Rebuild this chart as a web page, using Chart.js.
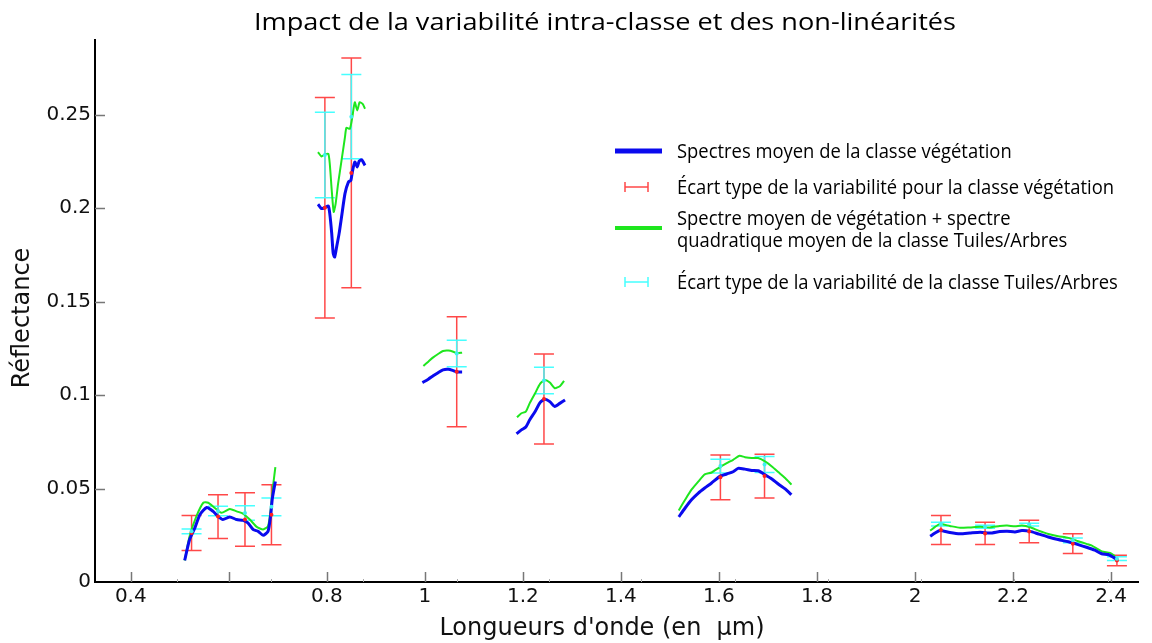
<!DOCTYPE html>
<html lang="fr">
<head>
<meta charset="utf-8">
<title>Impact de la variabilité intra-classe et des non-linéarités</title>
<script src="https://cdn.jsdelivr.net/npm/chart.js@4.4.1/dist/chart.umd.min.js"></script>
<style>
  html, body { margin: 0; padding: 0; background: #fff; }
  #wrap { width: 1152px; height: 643px; position: relative; }
</style>
</head>
<body>
<div id="wrap"><canvas id="spectres"></canvas></div>
<script>
  'use strict';

  // ── Textes ─────────────────────────────────────────────
  const chartTitle = 'Impact de la variabilité intra-classe et des non-linéarités';
  const xAxisTitle = "Longueurs d'onde (en  µm)";
  const yAxisTitle = 'Réflectance';
  const legendLabels = [
    'Spectres moyen de la classe végétation',
    'Écart type de la variabilité pour la classe végétation',
    ['Spectre moyen de végétation + spectre', 'quadratique moyen de la classe Tuiles/Arbres'],
    'Écart type de la variabilité de la classe Tuiles/Arbres',
  ];

  // ── Axes ───────────────────────────────────────────────
  const xTickValues = [0.4, 0.6, 0.8, 1.0, 1.2, 1.4, 1.6, 1.8, 2.0, 2.2, 2.4];
  const xTickLabels = ['0.4', '', '0.8', '1', '1.2', '1.4', '1.6', '1.8', '2', '2.2', '2.4'];
  const xMinorTicks = [0.494, 0.686, 0.874, 1.065, 1.254, 1.442, 1.633, 1.823, 2.013, 2.203, 2.393];
  const yTickValues = [0, 0.05, 0.1, 0.15, 0.2, 0.25];
  const yTickLabels = ['0', '0.05', '0.1', '0.15', '0.2', '0.25'];

  // ── Spectre moyen végétation (null = bande d'absorption) ──
  const vegWl = [
    0.510, 0.520, 0.531, 0.541, 0.555, 0.568, 0.578, 0.588, 0.602, 0.616, 0.629, 0.639, 0.650, 0.660, 0.670, 0.680, 0.685, 0.689, 0.695, null,
    0.782, 0.789, 0.796, 0.803, 0.806, 0.810, 0.813, 0.816, 0.820, 0.825, 0.830, 0.837, 0.844, 0.849, 0.852, 0.857, 0.862, 0.866, 0.871, 0.878, null,
    0.995, 1.007, 1.017, 1.027, 1.037, 1.048, 1.058, 1.066, 1.076, null,
    1.187, 1.197, 1.206, 1.214, 1.225, 1.235, 1.245, 1.255, 1.265, 1.276, 1.286, null,
    1.518, 1.531, 1.544, 1.558, 1.571, 1.585, 1.602, 1.616, 1.629, 1.639, 1.653, 1.667, 1.680, 1.694, 1.708, 1.721, 1.735, 1.748, null,
    2.031, 2.041, 2.051, 2.071, 2.092, 2.112, 2.133, 2.153, 2.173, 2.188, 2.204, 2.218, 2.235, 2.252, 2.272, 2.292, 2.313, 2.333, 2.350, 2.367, 2.381, 2.394, 2.405, 2.412,
  ];
  const vegRefl = [
    0.0116, 0.0227, 0.0291, 0.0360, 0.0399, 0.0378, 0.0351, 0.0334, 0.0348, 0.0334, 0.0330, 0.0316, 0.0280, 0.0271, 0.0250, 0.0271, 0.0351, 0.0450, 0.0538, null,
    0.2021, 0.1998, 0.2003, 0.2012, 0.1971, 0.1864, 0.1758, 0.1739, 0.1793, 0.1864, 0.1953, 0.2078, 0.2140, 0.2149, 0.2193, 0.2247, 0.2220, 0.2252, 0.2259, 0.2229, null,
    0.1067, 0.1085, 0.1103, 0.1120, 0.1135, 0.1138, 0.1131, 0.1124, 0.1124, null,
    0.0793, 0.0814, 0.0829, 0.0868, 0.0912, 0.0960, 0.0978, 0.0965, 0.0939, 0.0957, 0.0974, null,
    0.0348, 0.0396, 0.0440, 0.0476, 0.0503, 0.0530, 0.0565, 0.0578, 0.0590, 0.0608, 0.0604, 0.0597, 0.0595, 0.0574, 0.0551, 0.0524, 0.0498, 0.0467, null,
    0.0245, 0.0262, 0.0276, 0.0265, 0.0258, 0.0262, 0.0266, 0.0262, 0.0270, 0.0272, 0.0268, 0.0275, 0.0271, 0.0257, 0.0241, 0.0227, 0.0215, 0.0200, 0.0186, 0.0170, 0.0151, 0.0147, 0.0132, 0.0120,
  ];

  // ── Végétation + spectre quadratique Tuiles/Arbres ────────
  const mixWl = [
    0.510, 0.520, 0.534, 0.548, 0.558, 0.571, 0.585, 0.602, 0.616, 0.629, 0.643, 0.657, 0.670, 0.680, 0.685, 0.691, 0.695, null,
    0.782, 0.789, 0.796, 0.803, 0.806, 0.810, 0.814, 0.818, 0.823, 0.830, 0.837, 0.840, 0.847, 0.852, 0.857, 0.862, 0.867, 0.873, 0.878, null,
    0.997, 1.007, 1.017, 1.027, 1.037, 1.048, 1.058, 1.066, 1.076, null,
    1.188, 1.197, 1.206, 1.214, 1.225, 1.235, 1.245, 1.255, 1.265, 1.276, 1.284, null,
    1.518, 1.531, 1.544, 1.558, 1.571, 1.585, 1.602, 1.616, 1.629, 1.642, 1.653, 1.667, 1.680, 1.694, 1.708, 1.721, 1.735, 1.748, null,
    2.031, 2.041, 2.051, 2.071, 2.092, 2.112, 2.133, 2.153, 2.173, 2.188, 2.204, 2.218, 2.235, 2.252, 2.272, 2.292, 2.313, 2.333, 2.350, 2.360, 2.381, 2.398, 2.408,
  ];
  const mixRefl = [
    0.0115, 0.0245, 0.0352, 0.0424, 0.0424, 0.0397, 0.0370, 0.0391, 0.0378, 0.0366, 0.0334, 0.0295, 0.0281, 0.0299, 0.0378, 0.0529, 0.0614, null,
    0.2300, 0.2277, 0.2288, 0.2291, 0.2238, 0.2096, 0.1980, 0.2025, 0.2131, 0.2256, 0.2380, 0.2430, 0.2425, 0.2487, 0.2567, 0.2523, 0.2567, 0.2558, 0.2532, null,
    0.1156, 0.1179, 0.1202, 0.1220, 0.1236, 0.1238, 0.1232, 0.1224, 0.1227, null,
    0.0882, 0.0903, 0.0912, 0.0957, 0.1010, 0.1060, 0.1081, 0.1067, 0.1037, 0.1049, 0.1076, null,
    0.0383, 0.0440, 0.0494, 0.0538, 0.0576, 0.0586, 0.0615, 0.0636, 0.0654, 0.0675, 0.0668, 0.0663, 0.0663, 0.0645, 0.0618, 0.0588, 0.0556, 0.0521, null,
    0.0275, 0.0295, 0.0310, 0.0300, 0.0290, 0.0292, 0.0295, 0.0292, 0.0300, 0.0302, 0.0298, 0.0302, 0.0293, 0.0275, 0.0257, 0.0245, 0.0236, 0.0218, 0.0204, 0.0196, 0.0164, 0.0156, 0.0138,
  ];

  // ── Écarts types (centre ± demi-hauteur) ────────────────
  const sdWl = [0.524, 0.578, 0.633, 0.687, 0.796, 0.850, 1.065, 1.243, 1.603, 1.693, 2.053, 2.143, 2.233, 2.322, 2.412];
  const vegSdMean = [0.0262, 0.0350, 0.0334, 0.0360, 0.2003, 0.2189, 0.1125, 0.0979, 0.0560, 0.0567, 0.0278, 0.0260, 0.0270, 0.0205, 0.0115];
  const vegSd = [0.0094, 0.0117, 0.0143, 0.0161, 0.0590, 0.0615, 0.0294, 0.0241, 0.0120, 0.0117, 0.0078, 0.0060, 0.0060, 0.0053, 0.0028];
  const tuilesSdMean = [0.0271, 0.0380, 0.0369, 0.0402, 0.2285, 0.2490, 0.1223, 0.1078, 0.0620, 0.0629, 0.0310, 0.0295, 0.0307, 0.0223, 0.0125];
  const tuilesSd = [0.0013, 0.0025, 0.0039, 0.0047, 0.0229, 0.0225, 0.0071, 0.0071, 0.0037, 0.0043, 0.0010, 0.0008, 0.0008, 0.0013, 0.0010];

  const colors = {
    veg: '#0a0aee',
    mix: '#1ee61e',
    vegSd: 'rgba(255, 40, 40, 0.85)',
    tuilesSd: 'rgba(60, 255, 255, 0.95)',
    axis: '#000',
    tick: '#777',
    text: '#111',
  };

  // un point sans y coupe la courbe entre deux bandes
  function toPoints(wl, refl) {
    return wl.map((x, i) => ({ x: x === null ? wl[i - 1] : x, y: refl[i] }));
  }

  // ── Barres d'erreur ──────────────────────────────────────
  function drawErrorBars(chart, means, sds, color) {
    const { ctx, scales: { x, y } } = chart;
    const cap = 10;
    ctx.save();
    ctx.strokeStyle = color;
    ctx.lineWidth = 1.5;
    sdWl.forEach((wl, i) => {
      const px = x.getPixelForValue(wl);
      const top = y.getPixelForValue(means[i] + sds[i]);
      const bot = y.getPixelForValue(means[i] - sds[i]);
      ctx.beginPath();
      ctx.moveTo(px, top); ctx.lineTo(px, bot);
      ctx.moveTo(px - cap, top); ctx.lineTo(px + cap, top);
      ctx.moveTo(px - cap, bot); ctx.lineTo(px + cap, bot);
      ctx.stroke();
    });
    ctx.restore();
  }

  function drawCentres(chart, means, color) {
    const { ctx, scales: { x, y } } = chart;
    ctx.save();
    ctx.fillStyle = color;
    sdWl.forEach((wl, i) => {
      ctx.beginPath();
      ctx.arc(x.getPixelForValue(wl), y.getPixelForValue(means[i]), 2, 0, Math.PI * 2);
      ctx.fill();
    });
    ctx.restore();
  }

  const errorBars = {
    id: 'errorBars',
    beforeDatasetsDraw(chart) {
      drawErrorBars(chart, vegSdMean, vegSd, colors.vegSd);
      drawErrorBars(chart, tuilesSdMean, tuilesSd, colors.tuilesSd);
    },
    afterDatasetsDraw(chart) {
      drawCentres(chart, vegSdMean, '#ff2020');
      drawCentres(chart, tuilesSdMean, '#40f0f0');
    },
  };

  // ── Graduations tournées vers l'intérieur + titres ───────
  const axisDecor = {
    id: 'axisDecor',
    afterDraw(chart) {
      const { ctx, chartArea, scales: { x, y } } = chart;
      ctx.save();
      ctx.strokeStyle = colors.tick;
      ctx.lineWidth = 1.5;
      ctx.beginPath();
      yTickValues.slice(1).forEach(v => {
        const py = Math.round(y.getPixelForValue(v)) + 0.5;
        ctx.moveTo(chartArea.left, py);
        ctx.lineTo(chartArea.left + 10, py);
      });
      xTickValues.forEach(v => {
        const px = Math.round(x.getPixelForValue(v)) + 0.5;
        ctx.moveTo(px, chartArea.bottom);
        ctx.lineTo(px, chartArea.bottom - 10);
      });
      ctx.stroke();
      ctx.lineWidth = 1;
      ctx.strokeStyle = '#aaa';
      ctx.beginPath();
      xMinorTicks.forEach(v => {
        const px = Math.round(x.getPixelForValue(v)) + 0.5;
        ctx.moveTo(px, chartArea.bottom);
        ctx.lineTo(px, chartArea.bottom - 3);
      });
      ctx.stroke();

      // titre général, légèrement élargi
      ctx.fillStyle = '#000';
      ctx.font = '24px "Open Sans"';
      ctx.textAlign = 'center';
      ctx.textBaseline = 'alphabetic';
      ctx.save();
      ctx.translate(605, 29.5);
      ctx.scale(1.13, 1);
      ctx.fillText(chartTitle, 0, 0);
      ctx.restore();

      ctx.fillStyle = '#111';
      ctx.font = '24px "DejaVu Sans"';
      ctx.textBaseline = 'middle';
      ctx.fillText(xAxisTitle, 602, 629);
      ctx.translate(23, 318);
      ctx.rotate(-Math.PI / 2);
      ctx.fillText(yAxisTitle, 0, 0);
      ctx.restore();
    },
  };

  // ── Légende ──────────────────────────────────────────────
  const spectraLegend = {
    id: 'spectraLegend',
    afterDraw(chart) {
      const { ctx } = chart;
      const markX = 615, markW = 47, textX = 677, squeeze = 0.92;
      const rows = [
        { kind: 'line', color: colors.veg, width: 5, y: 151, base: [157.5] },
        { kind: 'bar', color: colors.vegSd, y: 187, base: [194] },
        { kind: 'line', color: colors.mix, width: 4, y: 228, base: [225, 247] },
        { kind: 'bar', color: colors.tuilesSd, y: 282, base: [288.5] },
      ];
      ctx.save();
      rows.forEach((row, i) => {
        ctx.strokeStyle = row.color;
        ctx.beginPath();
        if (row.kind === 'line') {
          ctx.lineWidth = row.width;
          ctx.moveTo(markX, row.y); ctx.lineTo(markX + markW, row.y);
        } else {
          ctx.lineWidth = 1.5;
          ctx.moveTo(625, row.y); ctx.lineTo(648, row.y);
          ctx.moveTo(625, row.y - 5); ctx.lineTo(625, row.y + 5);
          ctx.moveTo(648, row.y - 5); ctx.lineTo(648, row.y + 5);
        }
        ctx.stroke();

        const lines = [].concat(legendLabels[i]);
        ctx.fillStyle = '#000';
        ctx.font = '20px "Open Sans"';
        ctx.textBaseline = 'alphabetic';
        lines.forEach((txt, k) => {
          ctx.save();
          ctx.translate(textX, row.base[k]);
          ctx.scale(squeeze, 1);
          ctx.fillText(txt, 0, 0);
          ctx.restore();
        });
      });
      ctx.restore();
    },
  };

  Chart.defaults.font.family = '"DejaVu Sans", sans-serif';
  Chart.defaults.color = colors.text;

  new Chart(document.getElementById('spectres'), {
    type: 'line',
    data: {
      datasets: [
        {
          label: legendLabels[0],
          data: toPoints(vegWl, vegRefl),
          borderColor: colors.veg,
          borderWidth: 3,
          pointRadius: 0,
          tension: 0.2,
          spanGaps: false,
          order: 1,
        },
        {
          label: legendLabels[2].join(' '),
          data: toPoints(mixWl, mixRefl),
          borderColor: colors.mix,
          borderWidth: 2,
          pointRadius: 0,
          tension: 0.2,
          spanGaps: false,
          order: 2,
        },
      ],
    },
    options: {
      responsive: true,
      maintainAspectRatio: false,
      animation: false,
      layout: { padding: { left: 0, right: 14, top: 40, bottom: 0 } },
      plugins: {
        legend: { display: false },
        tooltip: { enabled: false },
        title: { display: false },
      },
      scales: {
        x: {
          type: 'linear',
          min: 0.327,
          max: 2.455,
          afterBuildTicks: (scale) => { scale.ticks = xTickValues.map(v => ({ value: v })); },
          afterFit: (scale) => { scale.height = 61; },
          ticks: {
            callback: (v, i) => xTickLabels[i],
            autoSkip: false,
            maxRotation: 0,
            padding: 3,
            font: { size: 20 },
            color: colors.text,
          },
          grid: { display: false, drawTicks: false },
          border: { color: colors.axis, width: 2 },
        },
        y: {
          type: 'linear',
          min: 0,
          max: 0.29,
          afterBuildTicks: (scale) => { scale.ticks = yTickValues.map(v => ({ value: v })); },
          afterFit: (scale) => { scale.width = 95; },
          ticks: {
            callback: (v, i) => yTickLabels[i],
            autoSkip: false,
            padding: 4,
            font: { size: 20 },
            color: colors.text,
          },
          grid: { display: false, drawTicks: false },
          border: { color: colors.axis, width: 2 },
        },
      },
    },
    plugins: [errorBars, axisDecor, spectraLegend],
  });
</script>
</body>
</html>
